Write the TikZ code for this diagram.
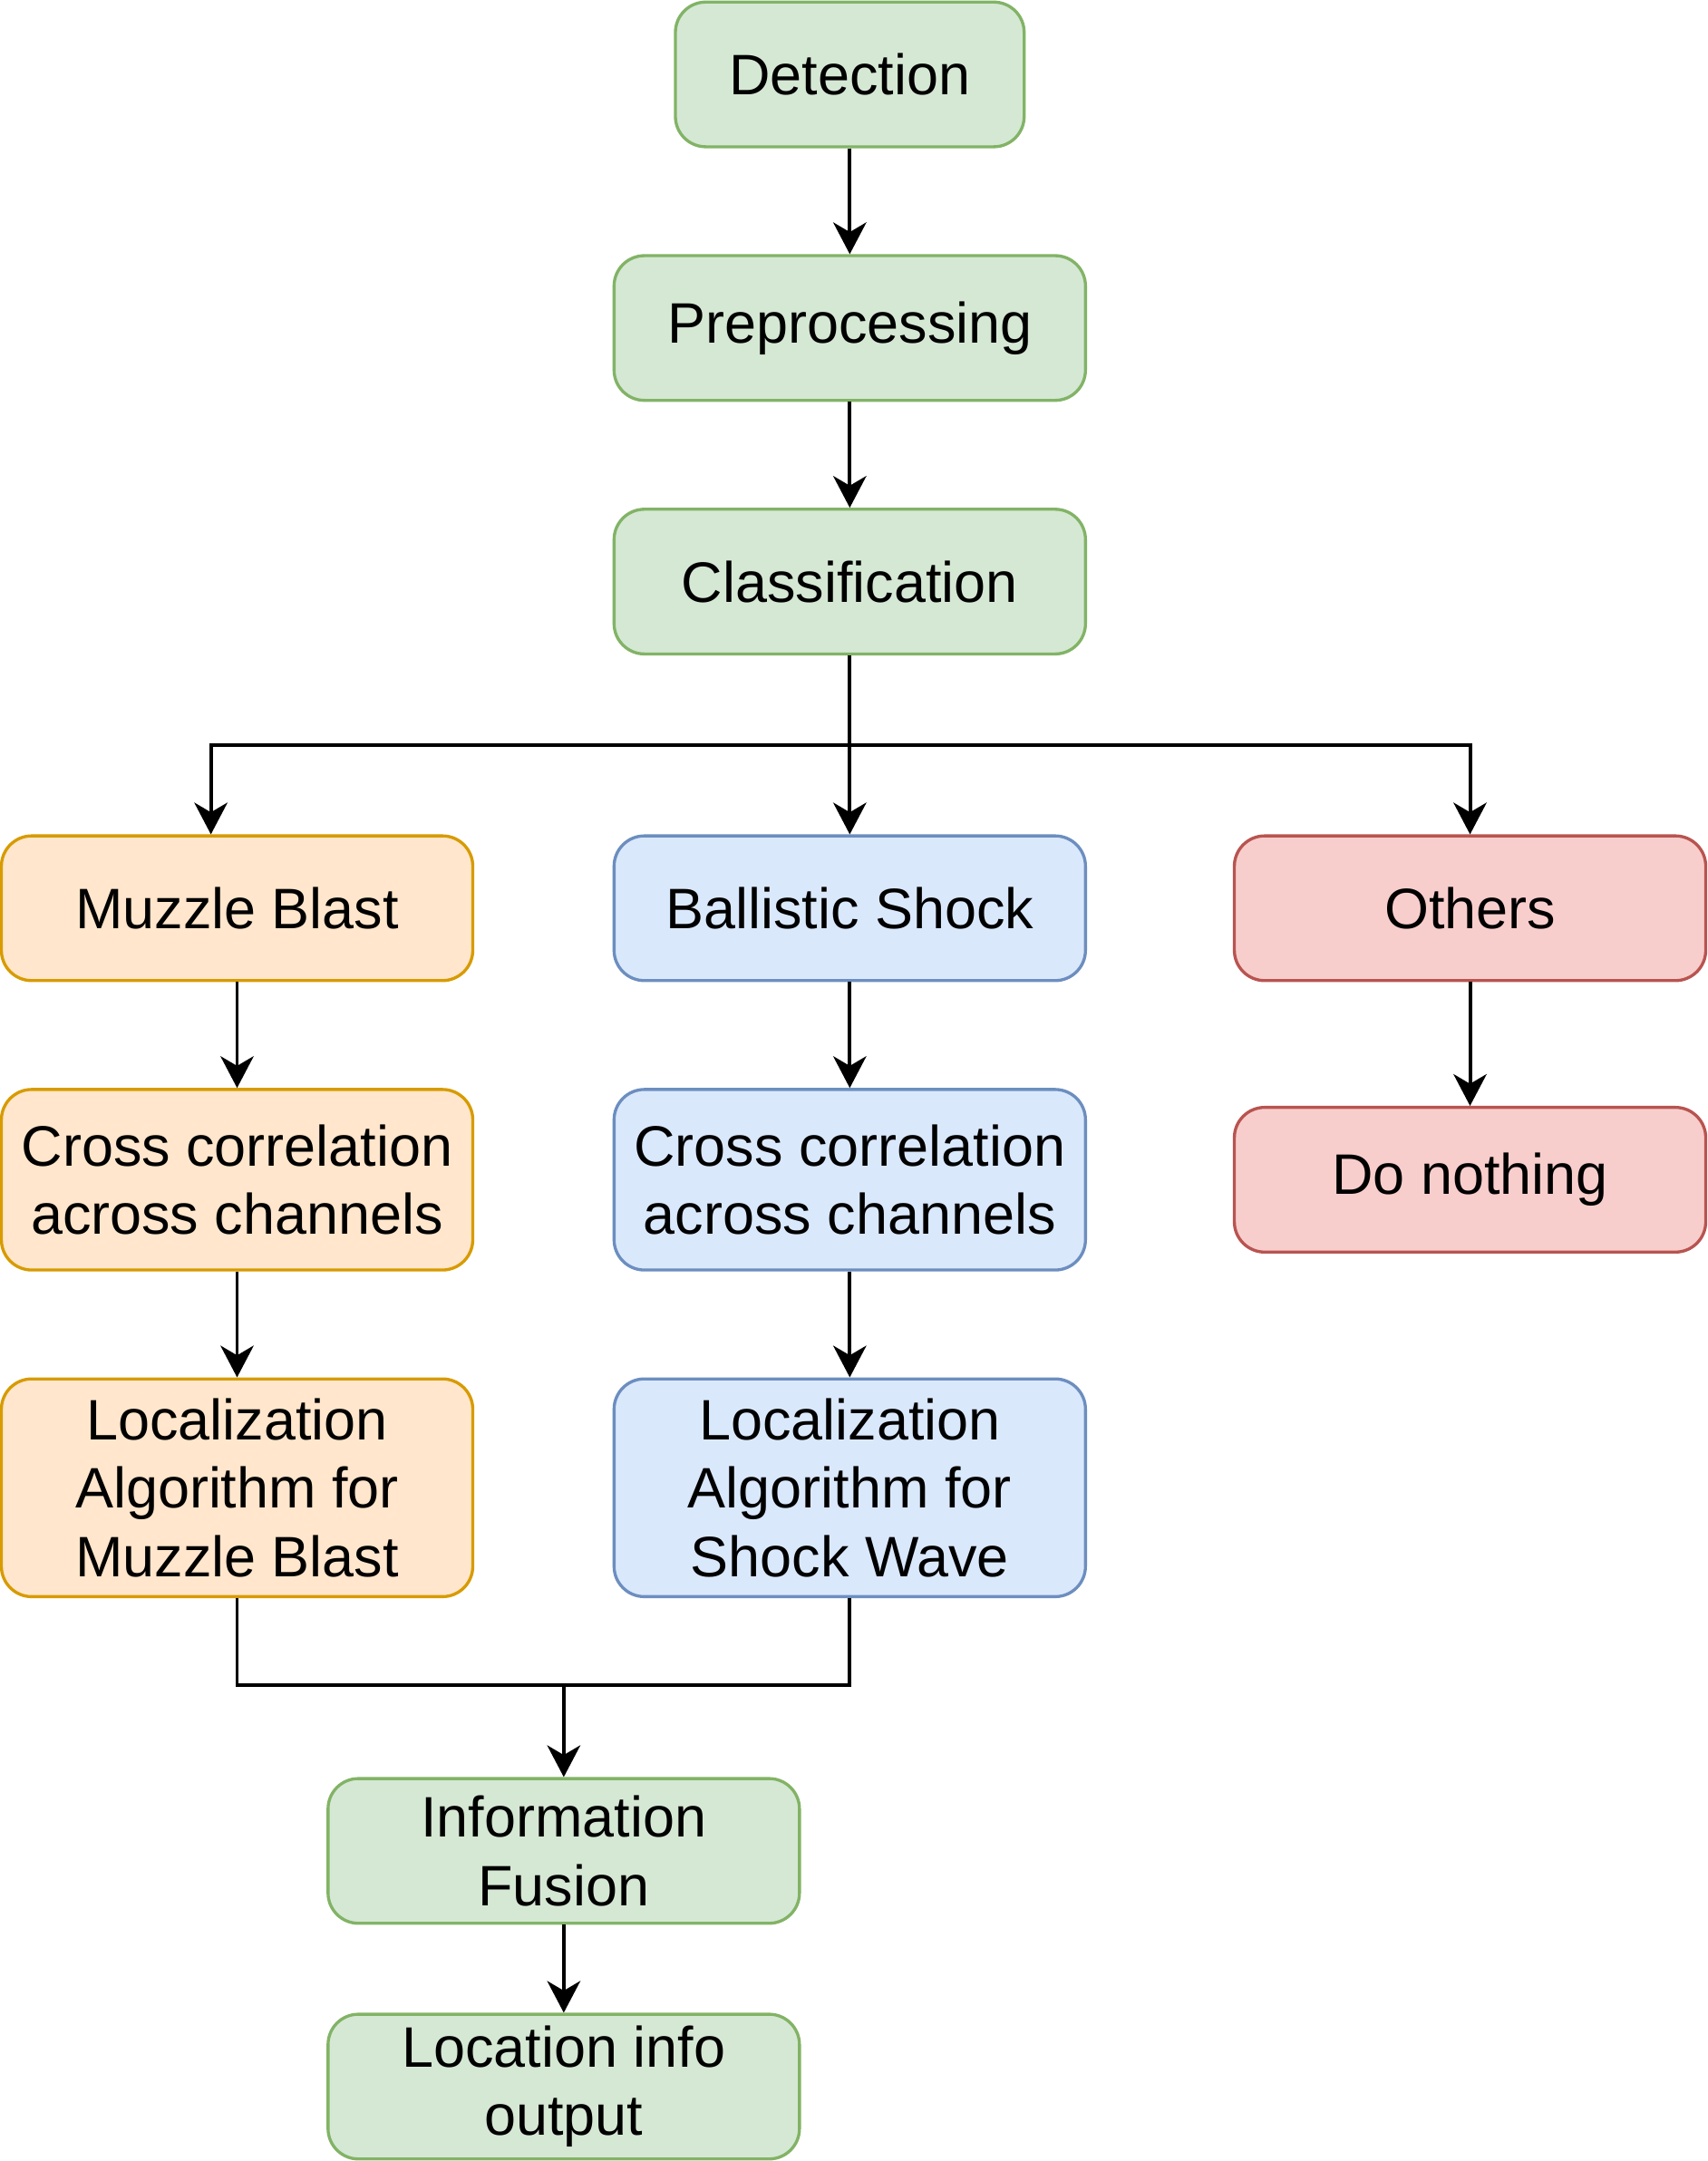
\documentclass[tikz,border=0pt]{standalone}
\usepackage{fontspec}
\setmainfont{Liberation Sans}
\usetikzlibrary{shapes.geometric, arrows.meta, calc}
\definecolor{gfill}{HTML}{D5E8D4}
\definecolor{gline}{HTML}{82B366}
\definecolor{ofill}{HTML}{FFE6CC}
\definecolor{oline}{HTML}{D79B00}
\definecolor{bfill}{HTML}{DAE8FC}
\definecolor{bline}{HTML}{6C8EBF}
\definecolor{rfill}{HTML}{F8CECC}
\definecolor{rline}{HTML}{B85450}
\tikzstyle{block}=[rectangle,rounded corners=11pt,minimum width=171pt,minimum height=52.5pt,inner sep=2pt,text centered,align=center,line width=1.1pt,font=\fontsize{20.7}{24.8}\selectfont]
\tikzstyle{greenbox}=[block,draw=gline,fill=gfill]
\tikzstyle{orangebox}=[block,draw=oline,fill=ofill]
\tikzstyle{bluebox}=[block,draw=bline,fill=bfill]
\tikzstyle{redbox}=[block,draw=rline,fill=rfill]
\tikzstyle{arrow} = [line width=1.3pt,-{Stealth[length=11.5pt,width=12pt,inset=3.5pt]}]
\tikzstyle{line} = [line width=1.3pt]
\begin{document}
\begin{tikzpicture}[node distance = 92pt]
\useasboundingbox (0,0) rectangle (619.5pt,-784pt);

\node (det) [greenbox,minimum width=126.5pt] at (308.25pt,-27pt) {Detection};
\node (pre) [greenbox,below of =det]{Preprocessing};
\node (cls) [greenbox,below of =pre]{Classification};
\node (bs) [bluebox,below of =cls,yshift=-26.5pt]{Ballistic Shock};
\node (mb) [orangebox,below of =cls,yshift=-26.5pt,xshift=-222.25pt]{Muzzle Blast};
\node (oth) [redbox,below of =cls,yshift=-26.5pt,xshift=225pt]{Others};
\node (cc1) [orangebox,below of =mb,yshift=-6.5pt,minimum height=65.5pt]{Cross correlation\\across channels};
\node (cc2) [bluebox,below of =bs,yshift=-6.5pt,minimum height=65.5pt]{Cross correlation\\across channels};
\node (nop) [redbox,below of =oth,yshift=-6.5pt]{Do nothing};
\node (loc1) [orangebox,below of =cc1,yshift=-19.75pt,minimum height=79pt]{Localization\\Algorithm for\\Muzzle Blast};
\node (loc2) [bluebox,below of =cc2,yshift=-19.75pt,minimum height=79pt]{Localization\\Algorithm for\\Shock Wave};
\node (fus) [greenbox,below of =loc2,yshift=-39.75pt,xshift=-103.75pt]{Information\\Fusion};
\node (out) [greenbox,below of =fus,yshift=6.5pt]{Location info\\output};

\coordinate (split) at ($(cls.south)!0.5!(bs.north)$);
\coordinate (join) at ($(fus.north)+(0,33.5pt)$);

\draw[arrow] (det) -- (pre);
\draw[arrow] (pre) -- (cls);
\draw[arrow] (cls) -- (bs);
\draw[arrow] (split) -| ([xshift=-9.5pt]mb.north);
\draw[arrow] (split) -| (oth);
\draw[arrow] (mb) -- (cc1);
\draw[arrow] (bs) -- (cc2);
\draw[arrow] (oth) -- (nop);
\draw[arrow] (cc1) -- (loc1);
\draw[arrow] (cc2) -- (loc2);
\draw[line] (loc1) |- (join);
\draw[line] (loc2) |- (join);
\draw[arrow] (join) -- (fus);
\draw[arrow] (fus) -- (out);
\end{tikzpicture}
\end{document}
